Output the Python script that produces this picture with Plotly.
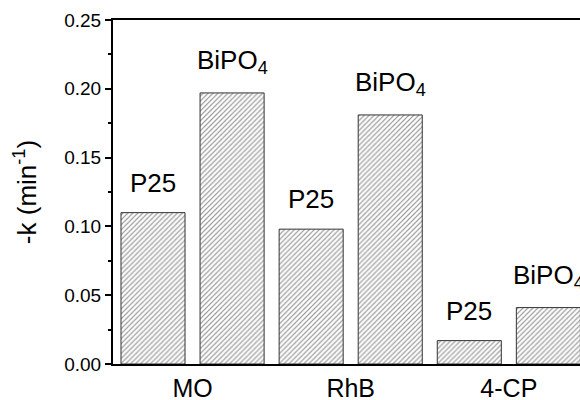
import plotly.graph_objects as go

categories = ["MO", "RhB", "4-CP"]
p25_values = [0.110, 0.098, 0.017]
bipo4_values = [0.197, 0.181, 0.041]
series_names = ["P25", "BiPO<sub>4</sub>"]
y_ticks = [0.00, 0.05, 0.10, 0.15, 0.20, 0.25]

FONT = "Liberation Sans, Arial, sans-serif"

fig = go.Figure()
pattern = dict(shape="/", size=3.5, solidity=0.35, fgcolor="#383838", bgcolor="white")
for name, vals in zip(series_names, [p25_values, bipo4_values]):
    fig.add_trace(go.Bar(
        x=categories, y=vals, name=name,
        marker=dict(color="white", pattern=pattern,
                    line=dict(color="#333333", width=1)),
    ))

# labels above bars
for k, (name, vals) in enumerate(zip(series_names, [p25_values, bipo4_values])):
    for cat, v in zip(categories, vals):
        fig.add_annotation(
            x=cat, y=v, text=name, showarrow=False,
            xshift=(-39.5 if k == 0 else 39.5), yshift=13,
            yanchor="bottom", xanchor="center",
            font=dict(family=FONT, size=26, color="black"),
        )

fig.update_layout(
    width=580, height=400,
    margin=dict(l=113, r=0, t=20, b=36),
    paper_bgcolor="white", plot_bgcolor="white",
    barmode="group", bargap=0.0, bargroupgap=0.19,
    showlegend=False,
    font=dict(family=FONT, color="black"),
)
fig.update_xaxes(
    range=[-0.503, 2.45], showline=True, linecolor="black", linewidth=2,
    mirror=True, ticks="", showgrid=False, zeroline=False,
    tickfont=dict(size=25), ticklabelstandoff=1, automargin=False,
)
fig.update_yaxes(
    range=[0, 0.25], tickvals=y_ticks, tickformat=".2f",
    showline=True, linecolor="black", linewidth=2, mirror=False,
    ticks="outside", ticklen=6, tickwidth=1.5, tickcolor="black",
    minor=dict(ticks="outside", ticklen=3, dtick=0.025, tickcolor="black", tickwidth=1.5),
    showgrid=False, zeroline=False, automargin=False,
    tickfont=dict(size=19),
    title=dict(text="-k (min<sup>-1</sup>)", font=dict(size=26), standoff=20),
)

fig.write_html("out.html", config={"displayModeBar": False},
               post_script="document.body.style.margin='0';document.body.style.overflow='hidden';")
